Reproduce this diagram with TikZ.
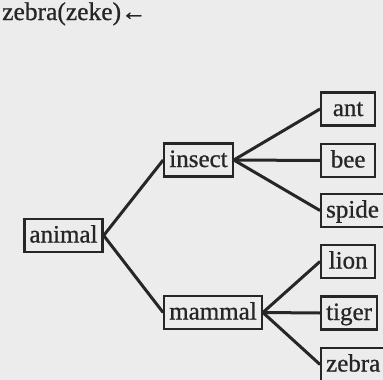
\documentclass[tikz,border=0pt]{standalone}
\usepackage{fontspec}
\setmainfont{Liberation Serif}[FakeBold=0.8]
\definecolor{ink}{HTML}{262626}
\definecolor{paper}{HTML}{ECECEC}
\begin{document}
\begin{tikzpicture}[x=1pt,y=-1pt,
  box/.style={draw=ink,line width=2.3pt,text=ink,inner xsep=5pt,inner ysep=4.5pt,
    text height=19pt,text depth=5pt,font=\fontsize{25}{28}\selectfont},
  leaf/.style={box,minimum width=54pt,anchor=west},
  link/.style={draw=ink,line width=3pt}]
\useasboundingbox (0,0) rectangle (383,380);
\fill[paper] (0,0) rectangle (383,380);
\clip (0,0) rectangle (383,380);
\node[anchor=base west,inner sep=0pt,text=ink,font=\fontsize{25.5}{28}\selectfont] (title) at (2,20) {zebra(zeke)←};
\node[box] (animal) at (63.5,235.5) {animal};
\node[box] (insect) at (198.5,160) {insect};
\node[box] (mammal) at (213,312.5) {mammal};
\node[leaf] (ant) at (320,109) {ant};
\node[leaf] (bee) at (320,160.5) {bee};
\node[leaf] (spider) at (320,210.5) {spide};
\node[leaf] (lion) at (320,261.5) {lion};
\node[leaf] (tiger) at (320,313) {tiger};
\node[leaf] (zebra) at (320,364.5) {zebra};
\draw[link] (animal.east) -- (insect.west);
\draw[link] (animal.east) -- (mammal.west);
\draw[link] (insect.east) -- (ant.west);
\draw[link] (insect.east) -- (bee.west);
\draw[link] (insect.east) -- (spider.west);
\draw[link] (mammal.east) -- (lion.west);
\draw[link] (mammal.east) -- (tiger.west);
\draw[link] (mammal.east) -- (zebra.west);
\end{tikzpicture}
\end{document}
